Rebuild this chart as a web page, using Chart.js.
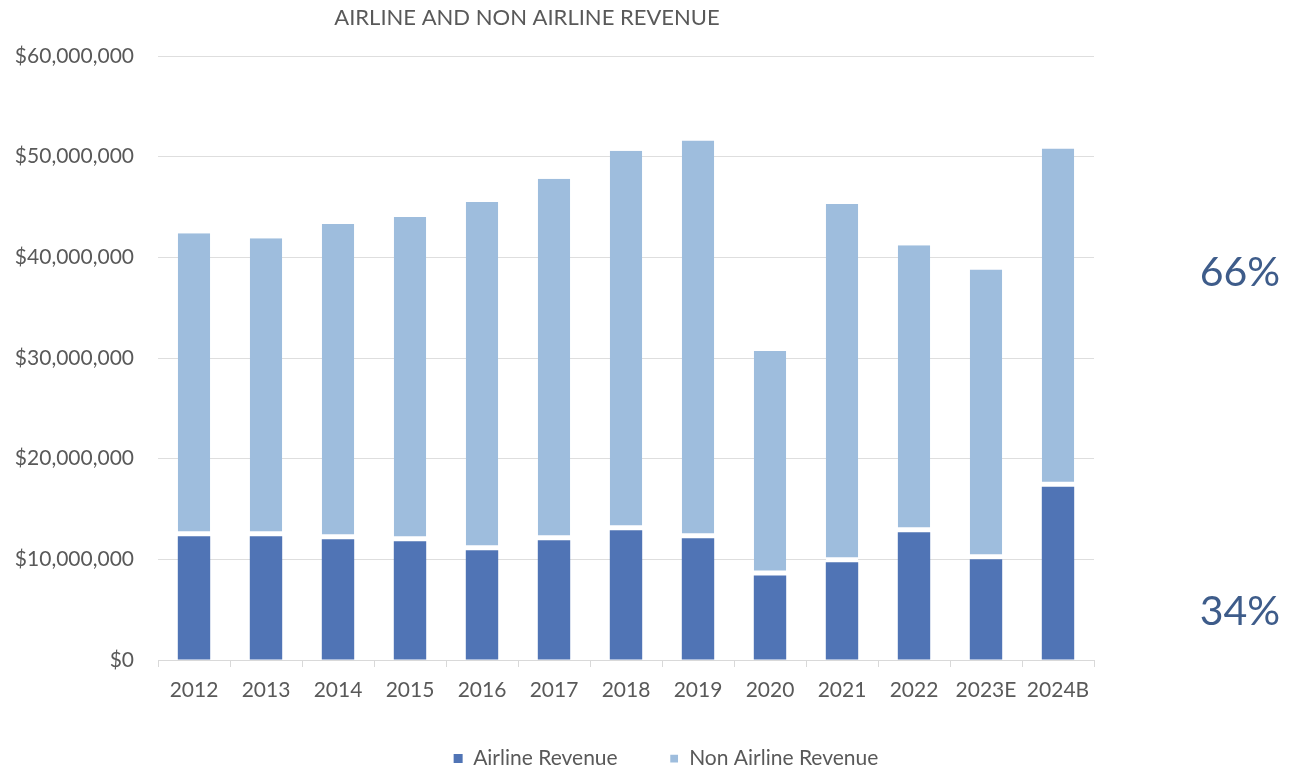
<!DOCTYPE html>
<html>
<head>
<meta charset="utf-8">
<script src="https://cdn.jsdelivr.net/npm/chart.js@4.4.0/dist/chart.umd.min.js"></script>
<style>
  html, body { margin: 0; padding: 0; background: #ffffff; }
  #wrap { width: 1289px; height: 768px; position: relative; }
</style>
</head>
<body>
<div id="wrap"><canvas id="c" width="1289" height="768"></canvas></div>
<script>
const categories = ['2012','2013','2014','2015','2016','2017','2018','2019','2020','2021','2022','2023E','2024B'];
const airlineRevenue = [12300000,12300000,12000000,11800000,10900000,11900000,12900000,12100000,8400000,9700000,12700000,10000000,17200000];
const nonAirlineRevenue = [30100000,29600000,31300000,32200000,34600000,35900000,37700000,39500000,22300000,35600000,28500000,28800000,33600000];
const yTicks = [0,10000000,20000000,30000000,40000000,50000000,60000000];
const titleText = 'AIRLINE AND NON AIRLINE REVENUE';
const shareLabels = ['66%','34%'];

const FONT = 'Lato, "Open Sans", sans-serif';
const TEXT = '#595959';

const extraText = {
  id: 'extraText',
  afterLayout(chart) {
    const lg = chart.legend;
    if (lg) {
      lg.left += 115; lg.right += 115;
      lg.top -= 6;
      lg.bottom = chart.height;
      lg.height = lg.bottom - lg.top;
    }
  },
  afterDraw(chart) {
    const ctx = chart.ctx;
    ctx.save();
    ctx.fillStyle = TEXT;
    ctx.font = '22px ' + FONT;
    ctx.textAlign = 'center';
    ctx.textBaseline = 'middle';
    ctx.fillText(titleText, 527, 18);
    ctx.fillStyle = '#3e5c8a';
    ctx.font = '41px ' + FONT;
    ctx.fillText(shareLabels[0], 1240, 273);
    ctx.fillText(shareLabels[1], 1240, 612);
    ctx.restore();
  }
};

new Chart(document.getElementById('c'), {
  type: 'bar',
  data: {
    labels: categories,
    datasets: [
      {
        label: 'Airline Revenue',
        data: airlineRevenue,
        backgroundColor: '#5074b5',
        barPercentage: 0.45,
        categoryPercentage: 1.0
      },
      {
        label: 'Non Airline Revenue',
        data: nonAirlineRevenue,
        backgroundColor: '#9ebddd',
        borderColor: '#ffffff',
        borderWidth: {top: 0, left: 0, right: 0, bottom: 5},
        borderSkipped: false,
        barPercentage: 0.45,
        categoryPercentage: 1.0
      }
    ]
  },
  options: {
    responsive: false,
    animation: false,
    layout: { padding: { top: 56, left: 8, right: 195, bottom: 0 } },
    plugins: {
      title: { display: false },
      tooltip: { enabled: false },
      legend: {
        position: 'bottom',
        maxHeight: 66,
        labels: {
          color: TEXT,
          font: { family: FONT, size: 21 },
          boxWidth: 9,
          boxHeight: 9,
          padding: 52
        }
      }
    },
    scales: {
      x: {
        stacked: true,
        afterFit(axis) { axis.height = 42; },
        grid: { display: true, drawOnChartArea: false, drawTicks: true, tickLength: 7, color: '#d9d9d9', offset: true },
        border: { display: true, color: '#d9d9d9' },
        ticks: { color: TEXT, font: { family: FONT, size: 21 }, padding: 11 }
      },
      y: {
        stacked: true,
        min: 0,
        max: 60000000,
        afterBuildTicks(axis) { axis.ticks = yTicks.map(v => ({ value: v })); },
        afterFit(axis) { axis.width = 150; },
        grid: { color: '#dedede', drawTicks: false },
        border: { display: false },
        ticks: {
          color: TEXT,
          font: { family: FONT, size: 21 },
          padding: 24,
          callback: v => '$' + Number(v).toLocaleString('en-US')
        }
      }
    }
  },
  plugins: [extraText]
});
</script>
</body>
</html>
